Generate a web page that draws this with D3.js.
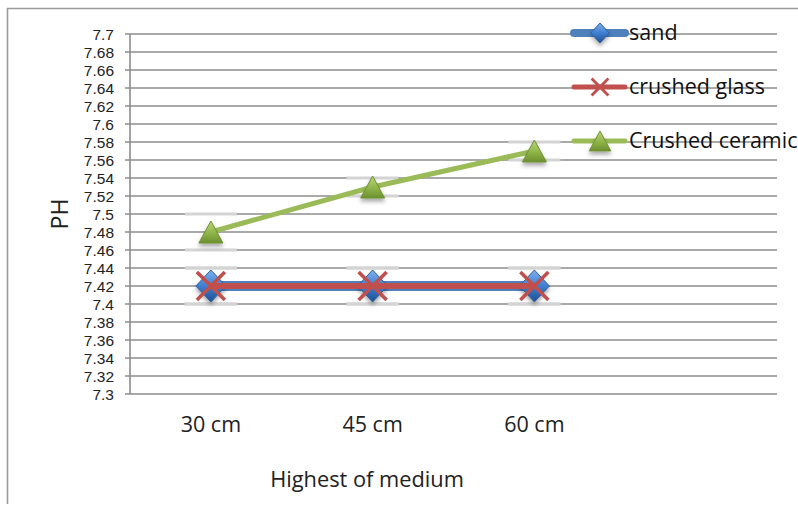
<!DOCTYPE html>
<html>
<head>
<meta charset="utf-8">
<script src="https://cdn.jsdelivr.net/npm/d3@7"></script>
<style>
  html, body { margin: 0; padding: 0; background: #fff; }
  svg { display: block; font-family: "Open Sans", "Noto Sans", sans-serif; }
</style>
</head>
<body>
<svg id="chart" width="798" height="506"></svg>
<script>
// Categories on the x axis (the last slot is an empty category)
const categories = ["30 cm", "45 cm", "60 cm", ""];
// pH readings per filter medium
const sandValues = [7.42, 7.42, 7.42];
const glassValues = [7.42, 7.42, 7.42];
const ceramicValues = [7.48, 7.53, 7.57];
const seriesNames = ["sand", "crushed glass", "Crushed ceramic"];
// y-axis tick labels
const yTickLabels = ["7.3", "7.32", "7.34", "7.36", "7.38", "7.4", "7.42", "7.44", "7.46", "7.48",
  "7.5", "7.52", "7.54", "7.56", "7.58", "7.6", "7.62", "7.64", "7.66", "7.68", "7.7"];

const svg = d3.select("#chart");
const W = 798, H = 506;
const plot = { left: 130, right: 777, top: 34, bottom: 394 };

const x = d3.scaleBand().domain(categories).range([plot.left, plot.right]);
const y = d3.scaleLinear().domain([7.3, 7.7]).range([plot.bottom, plot.top]);
const yTicks = yTickLabels.map(Number);

const series = [
  { name: seriesNames[0], values: sandValues, color: "#4F81BD", width: 10, marker: "diamond" },
  { name: seriesNames[1], values: glassValues, color: "#C0504D", width: 6, marker: "cross" },
  { name: seriesNames[2], values: ceramicValues, color: "#9BBB59", width: 5, marker: "triangle" }
];

// ---------- defs: gradients and shadow ----------
const defs = svg.append("defs");
const shadow = defs.append("filter").attr("id", "shadow")
  .attr("x", "-50%").attr("y", "-50%").attr("width", "200%").attr("height", "200%");
shadow.append("feDropShadow").attr("dx", 0).attr("dy", 3).attr("stdDeviation", 2.2)
  .attr("flood-color", "#000").attr("flood-opacity", 0.35);

const blueGrad = defs.append("linearGradient").attr("id", "gBlue")
  .attr("x1", 0).attr("y1", 0).attr("x2", 0).attr("y2", 1);
blueGrad.append("stop").attr("offset", "0%").attr("stop-color", "#7fb0ea");
blueGrad.append("stop").attr("offset", "50%").attr("stop-color", "#3f7fd0");
blueGrad.append("stop").attr("offset", "100%").attr("stop-color", "#1f4f92");

const greenGrad = defs.append("linearGradient").attr("id", "gGreen")
  .attr("x1", 0).attr("y1", 0).attr("x2", 0).attr("y2", 1);
greenGrad.append("stop").attr("offset", "0%").attr("stop-color", "#b9d77a");
greenGrad.append("stop").attr("offset", "55%").attr("stop-color", "#8fb548");
greenGrad.append("stop").attr("offset", "100%").attr("stop-color", "#6c8f2f");

// ---------- chart frame ----------
svg.append("path")
  .attr("d", `M${W},8.5 H7.5 V${H - 2}`)
  .attr("fill", "none").attr("stroke", "#9a9a9a").attr("stroke-width", 1.6);

// ---------- gridlines with y axis ticks ----------
const gridColor = "#8c8c8c";
svg.append("g").selectAll("line").data(yTicks).join("line")
  .attr("x1", plot.left - 5).attr("x2", plot.right)
  .attr("y1", d => y(d)).attr("y2", d => y(d))
  .attr("stroke", gridColor).attr("stroke-width", 1.6);

svg.append("line")
  .attr("x1", plot.left).attr("x2", plot.left)
  .attr("y1", plot.top).attr("y2", plot.bottom)
  .attr("stroke", gridColor).attr("stroke-width", 1.6);

// y tick labels via d3 axis (domain path and ticks hidden; gridlines drawn above)
const yAxis = d3.axisLeft(y).tickValues(yTicks)
  .tickFormat((d, i) => yTickLabels[i]).tickSize(0).tickPadding(0);
const yg = svg.append("g").attr("transform", `translate(${plot.left - 16},0)`).call(yAxis);
yg.select(".domain").remove();
yg.selectAll("text").attr("font-size", 15.5).attr("fill", "#222")
  .attr("font-family", "\"Liberation Sans\", Arial, sans-serif").attr("dy", "0.36em");

// x tick labels
const xAxis = d3.axisBottom(x).tickSize(0).tickPadding(0);
const xg = svg.append("g").attr("transform", `translate(0,${plot.bottom + 23})`).call(xAxis);
xg.select(".domain").remove();
xg.selectAll("text").attr("font-size", 21.5).attr("fill", "#222")
  .attr("font-family", "\"Open Sans\", sans-serif").attr("dy", "0.71em");

// axis titles
svg.append("text").attr("x", 367).attr("y", 487)
  .attr("text-anchor", "middle").attr("font-size", 21.8).attr("fill", "#222")
  .text("Highest of medium");
svg.append("text")
  .attr("transform", "translate(68,214) rotate(-90)")
  .attr("text-anchor", "middle").attr("font-size", 23).attr("fill", "#222")
  .text("PH");

// ---------- light halos on gridlines around each marker ----------
const halos = [];
series.forEach(s => s.values.forEach((v, i) => {
  const above = d3.min(yTicks.filter(t => t > v + 1e-9));
  const below = d3.max(yTicks.filter(t => t < v - 1e-9));
  [above, below].forEach(t => { if (t !== undefined) halos.push({ cat: categories[i], t }); });
}));
svg.append("g").selectAll("line").data(halos).join("line")
  .attr("x1", d => x(d.cat) + x.bandwidth() / 2 - 26)
  .attr("x2", d => x(d.cat) + x.bandwidth() / 2 + 26)
  .attr("y1", d => y(d.t)).attr("y2", d => y(d.t))
  .attr("stroke", "#d4d4d4").attr("stroke-width", 3);

// ---------- marker drawing ----------
function drawMarker(g, type, cx, cy, scale) {
  const k = scale || 1;
  if (type === "diamond") {
    const w = 15 * k, h = 16 * k;
    g.append("path")
      .attr("d", `M${cx},${cy - h} L${cx + w},${cy} L${cx},${cy + h} L${cx - w},${cy} Z`)
      .attr("fill", "url(#gBlue)").attr("stroke", "#2d5f9e").attr("stroke-width", 1)
      .attr("filter", "url(#shadow)");
  } else if (type === "cross") {
    const r = 14 * k;
    g.append("path")
      .attr("d", `M${cx - r},${cy - r} L${cx + r},${cy + r} M${cx - r},${cy + r} L${cx + r},${cy - r}`)
      .attr("stroke", "#C0504D").attr("stroke-width", 3.6 * Math.min(1, k + 0.2))
      .attr("fill", "none");
  } else if (type === "triangle") {
    const w = 12 * k, h = 11 * k;
    g.append("path")
      .attr("d", `M${cx},${cy - h} L${cx + w},${cy + h} L${cx - w},${cy + h} Z`)
      .attr("fill", "url(#gGreen)").attr("stroke", "#6f9233").attr("stroke-width", 1)
      .attr("stroke-linejoin", "round")
      .attr("filter", "url(#shadow)");
  }
}

// ---------- series lines and markers ----------
const line = d3.line()
  .x((d, i) => x(categories[i]) + x.bandwidth() / 2)
  .y(d => y(d));

series.forEach(s => {
  const g = svg.append("g");
  g.append("path").datum(s.values)
    .attr("d", line).attr("fill", "none")
    .attr("stroke", s.color).attr("stroke-width", s.width)
    .attr("stroke-linecap", "round").attr("stroke-linejoin", "round");
  s.values.forEach((v, i) => {
    drawMarker(g, s.marker, x(categories[i]) + x.bandwidth() / 2, y(v), 1);
  });
});

// ---------- legend ----------
const legendRows = [33, 87, 141];
const legendLineW = [8, 5, 5];
series.forEach((s, i) => {
  const g = svg.append("g");
  const ly = legendRows[i];
  g.append("line").attr("x1", 574).attr("x2", 625).attr("y1", ly).attr("y2", ly)
    .attr("stroke", s.color).attr("stroke-width", legendLineW[i]).attr("stroke-linecap", "round");
  drawMarker(g, s.marker, 600, ly, s.marker === "diamond" ? 0.62 : (s.marker === "cross" ? 0.6 : 0.9));
  g.append("text").attr("x", 629).attr("y", ly + 7)
    .attr("font-size", 21.5).attr("fill", "#111").text(s.name);
});
</script>
</body>
</html>
